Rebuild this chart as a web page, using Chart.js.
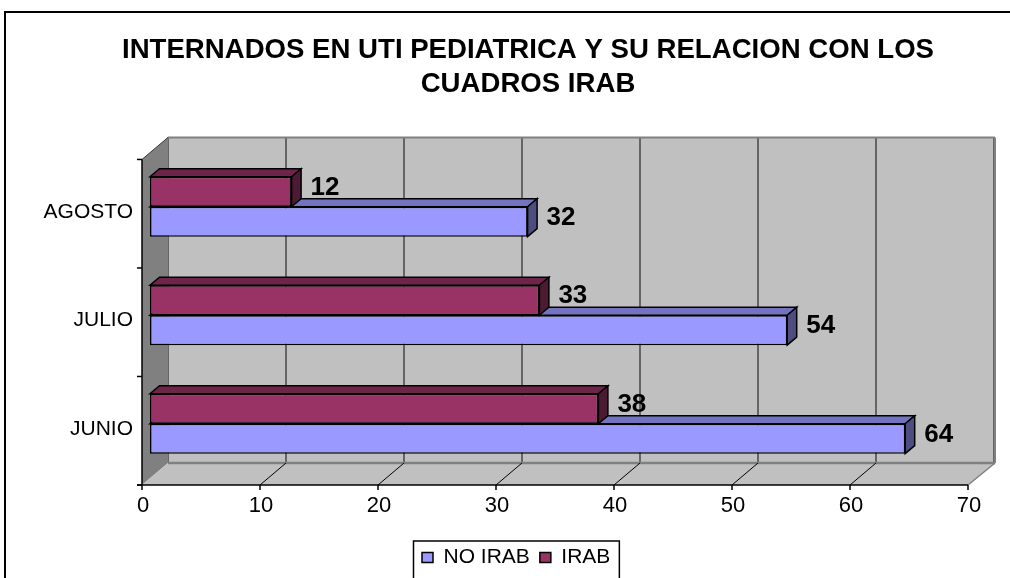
<!DOCTYPE html>
<html>
<head>
<meta charset="utf-8">
<title>Internados UTI pediatrica</title>
<script src="https://cdn.jsdelivr.net/npm/chart.js@4.4.1/dist/chart.umd.min.js"></script>
<style>
  body { margin: 0; background: #fff; overflow: hidden; }
  #wrap { width: 1010px; height: 578px; position: relative; }
</style>
</head>
<body>
<div id="wrap"><canvas id="graf"></canvas></div>
<script>
// Datos del grafico
const meses = ['AGOSTO', 'JULIO', 'JUNIO'];
const noIrab = [32, 54, 64];
const irab = [12, 33, 38];
const xTicks = [0, 10, 20, 30, 40, 50, 60, 70];
const titulo = ['INTERNADOS EN UTI PEDIATRICA Y SU RELACION CON LOS', 'CUADROS IRAB'];

const FUENTE = "'Liberation Sans', Arial, sans-serif";
// desplazamientos del efecto 3D respecto al plano de las barras
const FRENTE = { dx: -8, dy: 7 };
const FONDO = { dx: 18, dy: -15 };
const PROF = { dx: 9.5, dy: 8 };

function linea(ctx, x1, y1, x2, y2, color, ancho) {
  ctx.beginPath();
  ctx.moveTo(x1, y1);
  ctx.lineTo(x2, y2);
  ctx.strokeStyle = color;
  ctx.lineWidth = ancho;
  ctx.stroke();
}

function poligono(ctx, pts, relleno, borde, ancho) {
  ctx.beginPath();
  ctx.moveTo(pts[0][0], pts[0][1]);
  for (let i = 1; i < pts.length; i++) ctx.lineTo(pts[i][0], pts[i][1]);
  ctx.closePath();
  ctx.fillStyle = relleno;
  ctx.fill();
  if (borde) {
    ctx.strokeStyle = borde;
    ctx.lineWidth = ancho;
    ctx.stroke();
  }
}

const caja3d = {
  id: 'caja3d',
  afterLayout(chart) {
    // centrar titulo y leyenda como en el original
    const t = chart.titleBlock;
    if (t) {
      const d = 528 - (t.left + t.right) / 2;
      t.left += d; t.right += d;
    }
    const lg = chart.legend;
    if (lg && lg.lineWidths) {
      const x0 = (lg.left + 10 + lg.right - lg.lineWidths[0]) / 2;
      const d = 422 - x0;
      lg.left += d; lg.right += d;
    }
  },
  beforeDatasetsDraw(chart) {
    const { ctx, chartArea: a, scales: { x } } = chart;
    const fl = a.left + FRENTE.dx, fr = a.right + FRENTE.dx;
    const ft = a.top + FRENTE.dy, fb = a.bottom + FRENTE.dy;
    const bl = a.left + FONDO.dx, br = a.right + FONDO.dx;
    const bt = a.top + FONDO.dy, bb = a.bottom + FONDO.dy;
    ctx.save();
    // pared del fondo
    ctx.fillStyle = '#C0C0C0';
    ctx.fillRect(bl, bt, br - bl, bb - bt);
    xTicks.forEach(v => {
      const px = x.getPixelForValue(v) + FONDO.dx;
      linea(ctx, px, bt, px, bb, '#333', 1.3);
    });
    linea(ctx, bl, bt, br + 1, bt, '#808080', 2);
    linea(ctx, br + 1, bt, br + 1, bb, '#808080', 2);
    // pared izquierda
    poligono(ctx, [[fl, ft], [bl, bt], [bl, bb], [fl, fb]], '#808080');
    linea(ctx, fl, ft, bl, bt, '#333', 1);
    // piso
    poligono(ctx, [[fl, fb], [fr, fb], [br + 1, bb], [bl, bb]], '#C0C0C0');
    linea(ctx, bl, bb, br + 1, bb, '#808080', 2.5);
    linea(ctx, fr, fb, br + 1, bb, '#808080', 1.5);
    xTicks.slice(1, -1).forEach(v => {
      const px = x.getPixelForValue(v);
      linea(ctx, px + FRENTE.dx, fb, px + FONDO.dx, bb, '#000', 1);
    });
    // ejes
    linea(ctx, fl, ft, fl, fb, '#000', 1.5);
    linea(ctx, fl - 5, fb, fr, fb, '#000', 1.5);
    xTicks.forEach(v => {
      const px = x.getPixelForValue(v) + FRENTE.dx;
      linea(ctx, px, fb, px, fb + 5, '#000', 1.5);
    });
    const n = meses.length;
    for (let i = 0; i <= n; i++) {
      const yy = ft + i * (fb - ft) / n;
      linea(ctx, fl - 5, yy, fl, yy, '#000', 1.5);
    }
    ctx.restore();
  },
  afterDatasetDraw(chart, args) {
    const ctx = chart.ctx;
    const ds = chart.data.datasets[args.index];
    ctx.save();
    args.meta.data.forEach(el => {
      const p = el.getProps(['x', 'y', 'base', 'height'], true);
      const top = p.y - p.height / 2, bot = p.y + p.height / 2;
      // cara superior y lateral
      poligono(ctx, [[p.base, top], [p.x, top], [p.x + PROF.dx, top - PROF.dy], [p.base + PROF.dx, top - PROF.dy]], ds.caraSup, '#000', 1.5);
      poligono(ctx, [[p.x, top], [p.x + PROF.dx, top - PROF.dy], [p.x + PROF.dx, bot - PROF.dy], [p.x, bot]], ds.caraLat, '#000', 1.5);
    });
    ctx.restore();
  },
  afterDraw(chart) {
    const ctx = chart.ctx;
    ctx.save();
    // etiquetas de valores
    ctx.font = 'bold 26px ' + FUENTE;
    ctx.fillStyle = '#000';
    ctx.textAlign = 'left';
    ctx.textBaseline = 'middle';
    chart.data.datasets.forEach((ds, i) => {
      chart.getDatasetMeta(i).data.forEach((el, j) => {
        ctx.fillText(ds.data[j], el.x + 19, el.y - 4);
      });
    });
    // recuadro de la leyenda
    const hb = chart.legend.legendHitBoxes;
    if (hb && hb.length) {
      const izq = hb[0].left - 8.5;
      const der = hb[hb.length - 1].left + hb[hb.length - 1].width + 9;
      ctx.strokeStyle = '#000';
      ctx.lineWidth = 1.5;
      ctx.strokeRect(izq, 541, der - izq, 80);
    }
    // marco del grafico
    ctx.lineWidth = 2;
    ctx.strokeRect(5, 12, 1200, 800);
    ctx.restore();
  }
};

Chart.defaults.font.family = FUENTE;
Chart.defaults.color = '#000';

const ctx = document.getElementById('graf').getContext('2d');
window.graficoIrab = new Chart(ctx, {
  type: 'bar',
  data: {
    labels: meses,
    datasets: [
      {
        label: 'IRAB',
        data: irab,
        backgroundColor: '#993366',
        caraSup: '#6E2549',
        caraLat: '#4D1A33',
        borderColor: '#000',
        borderWidth: 1.5,
        borderSkipped: false
      },
      {
        label: 'NO IRAB',
        data: noIrab,
        backgroundColor: '#9999FF',
        caraSup: '#7373BF',
        caraLat: '#4D4D80',
        borderColor: '#000',
        borderWidth: 1.5,
        borderSkipped: false
      }
    ]
  },
  options: {
    indexAxis: 'y',
    responsive: true,
    maintainAspectRatio: false,
    animation: false,
    events: [],
    categoryPercentage: 0.552,
    barPercentage: 1,
    layout: { padding: { left: 0, right: 34, top: 0, bottom: 0 } },
    plugins: {
      title: {
        display: true,
        text: titulo,
        color: '#000',
        font: { size: 27.6, weight: 'bold', lineHeight: 1.24 },
        padding: { top: 33, bottom: 51 }
      },
      legend: {
        position: 'bottom',
        reverse: true,
        labels: {
          font: { size: 21 },
          color: '#000',
          boxWidth: 11,
          boxHeight: 10,
          padding: 10
        }
      },
      tooltip: { enabled: false }
    },
    scales: {
      x: {
        min: xTicks[0],
        max: xTicks[xTicks.length - 1],
        ticks: {
          stepSize: xTicks[1] - xTicks[0],
          font: { size: 22 },
          color: '#000',
          padding: 15,
          labelOffset: -7
        },
        grid: { display: false, drawTicks: false },
        border: { display: false },
        afterFit: s => { s.height = 59; }
      },
      y: {
        ticks: {
          font: { size: 21 },
          color: '#000',
          padding: 17,
          labelOffset: 5
        },
        grid: { display: false, drawTicks: false },
        border: { display: false },
        afterFit: s => { s.width = 150; }
      }
    }
  },
  plugins: [caja3d]
});
</script>
</body>
</html>
